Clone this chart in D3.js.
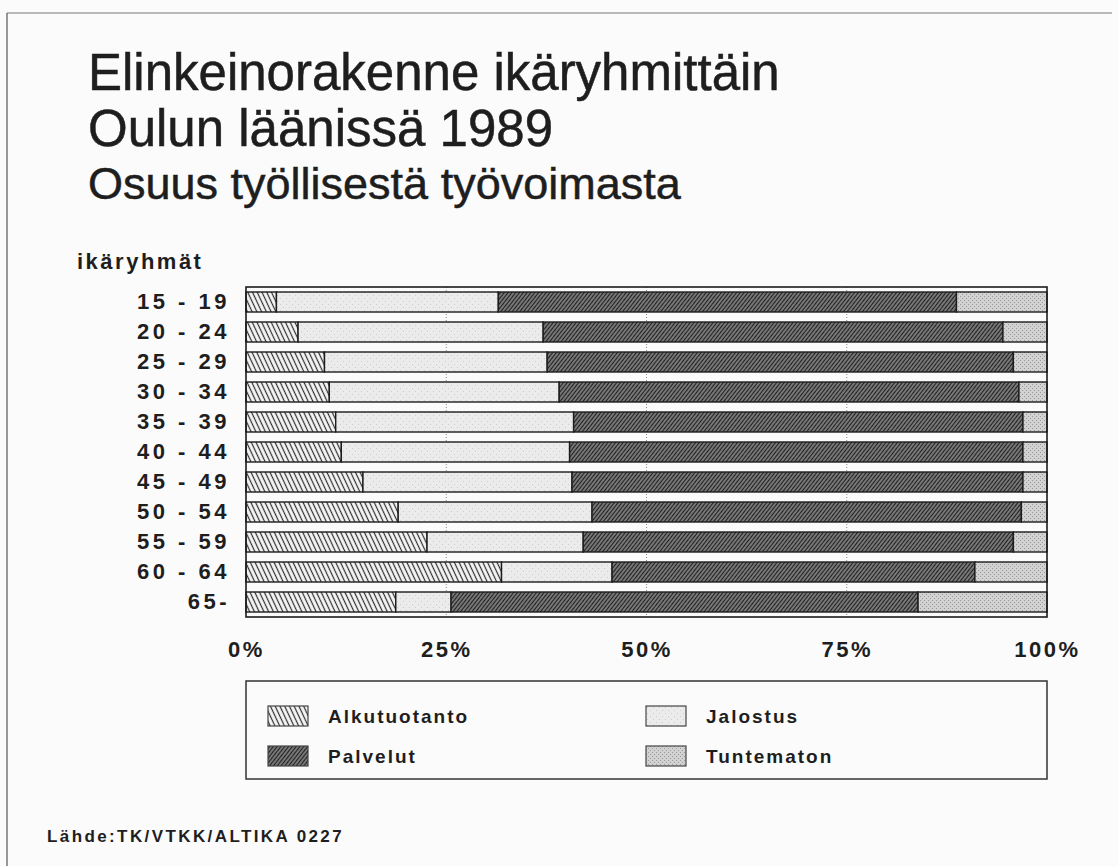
<!DOCTYPE html>
<html>
<head>
<meta charset="utf-8">
<script src="https://cdn.jsdelivr.net/npm/d3@7"></script>
<style>
  html, body { margin: 0; padding: 0; background: #fbfbfb; }
  svg { display: block; }
  text { font-family: "Liberation Sans", Arial, Helvetica, sans-serif; fill: #1e1e1e; }
</style>
</head>
<body>
<svg id="chart" width="1118" height="866"></svg>
<script>
// Age groups (rows, top to bottom)
const ageGroups = ["15 - 19", "20 - 24", "25 - 29", "30 - 34", "35 - 39", "40 - 44",
                   "45 - 49", "50 - 54", "55 - 59", "60 - 64", "65-"];

// Share of employed labour force by sector, % per age group
const alkutuotanto = [3.8, 6.5, 9.8, 10.4, 11.2, 11.9, 14.6, 19.0, 22.6, 31.9, 18.7];
const jalostus     = [27.7, 30.6, 27.8, 28.7, 29.7, 28.5, 26.1, 24.2, 19.5, 13.8, 6.9];
const palvelut     = [57.2, 57.4, 58.2, 57.4, 56.1, 56.6, 56.3, 53.6, 53.7, 45.3, 58.3];
const tuntematon   = [11.3, 5.5, 4.2, 3.5, 3.0, 3.0, 3.0, 3.2, 4.2, 9.0, 16.1];

const sectorKeys   = ["Alkutuotanto", "Jalostus", "Palvelut", "Tuntematon"];
const tickValues   = [0, 25, 50, 75, 100];

const rows = ageGroups.map((g, i) => ({
  group: g,
  Alkutuotanto: alkutuotanto[i],
  Jalostus: jalostus[i],
  Palvelut: palvelut[i],
  Tuntematon: tuntematon[i]
}));

const svg = d3.select("#chart");

// ---- hatch / stipple fills ----
const defs = svg.append("defs");

function linePattern(id, spacing, angle, bg, stroke, sw) {
  const p = defs.append("pattern")
    .attr("id", id)
    .attr("patternUnits", "userSpaceOnUse")
    .attr("width", spacing).attr("height", 10)
    .attr("patternTransform", `rotate(${angle})`);
  p.append("rect").attr("width", spacing).attr("height", 10).attr("fill", bg);
  p.append("line").attr("x1", spacing / 2).attr("x2", spacing / 2)
    .attr("y1", 0).attr("y2", 10)
    .attr("stroke", stroke).attr("stroke-width", sw);
}

function dotPattern(id, size, bg, dots, r, dotColor) {
  const p = defs.append("pattern")
    .attr("id", id)
    .attr("patternUnits", "userSpaceOnUse")
    .attr("width", size).attr("height", size);
  p.append("rect").attr("width", size).attr("height", size).attr("fill", bg);
  dots.forEach(([x, y]) => p.append("rect")
    .attr("x", x).attr("y", y).attr("width", r).attr("height", r).attr("fill", dotColor));
}

linePattern("fill-alku", 4.3, -25, "#f6f6f6", "#2e2e2e", 1.2);
linePattern("fill-palv", 3.0, 38, "#9c9c9c", "#202020", 1.6);
dotPattern("fill-jal", 6, "#ebebeb", [[1, 1], [4, 4]], 0.6, "#9a9a9a");
dotPattern("fill-tun", 4, "#d2d2d2", [[0, 0], [2, 2]], 0.9, "#8a8a8a");

const fills = {
  Alkutuotanto: "url(#fill-alku)",
  Jalostus: "url(#fill-jal)",
  Palvelut: "url(#fill-palv)",
  Tuntematon: "url(#fill-tun)"
};

// ---- page border (left and top edges) ----
svg.append("line").attr("x1", 7).attr("x2", 7).attr("y1", 13).attr("y2", 866)
  .attr("stroke", "#555").attr("stroke-width", 1.2);
svg.append("line").attr("x1", 7).attr("x2", 1112).attr("y1", 13).attr("y2", 13)
  .attr("stroke", "#777").attr("stroke-width", 1);

// ---- titles ----
const titleStyle = sel => sel.style("stroke", "#1e1e1e").style("stroke-width", "0.5px");
svg.append("text").attr("x", 88).attr("y", 90)
  .style("font-size", "51px").call(titleStyle).text("Elinkeinorakenne ikäryhmittäin");
svg.append("text").attr("x", 88).attr("y", 146)
  .style("font-size", "51px").call(titleStyle).text("Oulun läänissä 1989");
svg.append("text").attr("x", 88).attr("y", 199)
  .style("font-size", "45px").call(titleStyle).text("Osuus työllisestä työvoimasta");

svg.append("text").attr("x", 77).attr("y", 269)
  .style("font-size", "22px").style("font-weight", "bold").style("letter-spacing", "2.5px")
  .text("ikäryhmät");

// ---- scales ----
const plot = { left: 246, right: 1047, top: 287, bottom: 617 };

const x = d3.scaleLinear().domain([0, 100]).range([plot.left, plot.right]);
const y = d3.scaleBand().domain(ageGroups)
  .range([plot.top, plot.bottom])
  .paddingInner(1 / 3).paddingOuter(1 / 6);

// dotted guide lines
svg.append("g").selectAll("line")
  .data(tickValues.filter(t => t > 0 && t < 100))
  .join("line")
  .attr("x1", d => x(d)).attr("x2", d => x(d))
  .attr("y1", plot.top).attr("y2", plot.bottom)
  .attr("stroke", "#8c8c8c").attr("stroke-width", 1)
  .attr("stroke-dasharray", "1,2");

// ---- stacked bars ----
const stacked = d3.stack().keys(sectorKeys)(rows);

svg.append("g").selectAll("g")
  .data(stacked)
  .join("g")
  .attr("fill", d => fills[d.key])
  .selectAll("rect")
  .data(d => d)
  .join("rect")
  .attr("x", d => x(d[0]))
  .attr("y", d => y(d.data.group))
  .attr("width", d => x(d[1]) - x(d[0]))
  .attr("height", y.bandwidth())
  .attr("stroke", "#1c1c1c")
  .attr("stroke-width", 1.4);

// plot frame
svg.append("rect")
  .attr("x", plot.left).attr("y", plot.top)
  .attr("width", plot.right - plot.left).attr("height", plot.bottom - plot.top)
  .attr("fill", "none").attr("stroke", "#1c1c1c").attr("stroke-width", 1.6);

// ---- axes ----
const xAxis = svg.append("g")
  .attr("transform", `translate(0,${plot.bottom})`)
  .call(d3.axisBottom(x).tickValues(tickValues).tickFormat(d => d + "%")
    .tickSize(0).tickPadding(24));
xAxis.select(".domain").remove();
xAxis.selectAll("text")
  .style("font-size", "22px").style("font-weight", "bold")
  .style("letter-spacing", "2.5px")
  .style("font-family", "'Liberation Sans', Arial, sans-serif")
  .attr("fill", "#1e1e1e");

const yAxis = svg.append("g")
  .attr("transform", `translate(${plot.left},0)`)
  .call(d3.axisLeft(y).tickSize(0).tickPadding(16));
yAxis.select(".domain").remove();
yAxis.selectAll("text")
  .style("font-size", "22px").style("font-weight", "bold")
  .style("letter-spacing", "3.5px")
  .style("font-family", "'Liberation Sans', Arial, sans-serif")
  .attr("fill", "#1e1e1e");

// ---- legend ----
const legend = svg.append("g");
legend.append("rect")
  .attr("x", 246).attr("y", 681).attr("width", 801).attr("height", 98)
  .attr("fill", "none").attr("stroke", "#333").attr("stroke-width", 1.5);

const legendPos = [
  { key: "Alkutuotanto", x: 268, y: 706 },
  { key: "Jalostus", x: 646, y: 706 },
  { key: "Palvelut", x: 268, y: 746 },
  { key: "Tuntematon", x: 646, y: 746 }
];
const items = legend.selectAll("g.item").data(legendPos).join("g").attr("class", "item")
  .attr("transform", d => `translate(${d.x},${d.y})`);
items.append("rect")
  .attr("width", 40).attr("height", 20)
  .attr("fill", d => fills[d.key])
  .attr("stroke", "#444").attr("stroke-width", 1.2);
items.append("text")
  .attr("x", 60).attr("y", 17)
  .style("font-size", "19px").style("font-weight", "bold").style("letter-spacing", "2px")
  .text(d => d.key);

// ---- source ----
svg.append("text").attr("x", 47).attr("y", 842)
  .style("font-size", "17px").style("font-weight", "bold").style("letter-spacing", "2.4px")
  .text("Lähde:TK/VTKK/ALTIKA 0227");
</script>
</body>
</html>
